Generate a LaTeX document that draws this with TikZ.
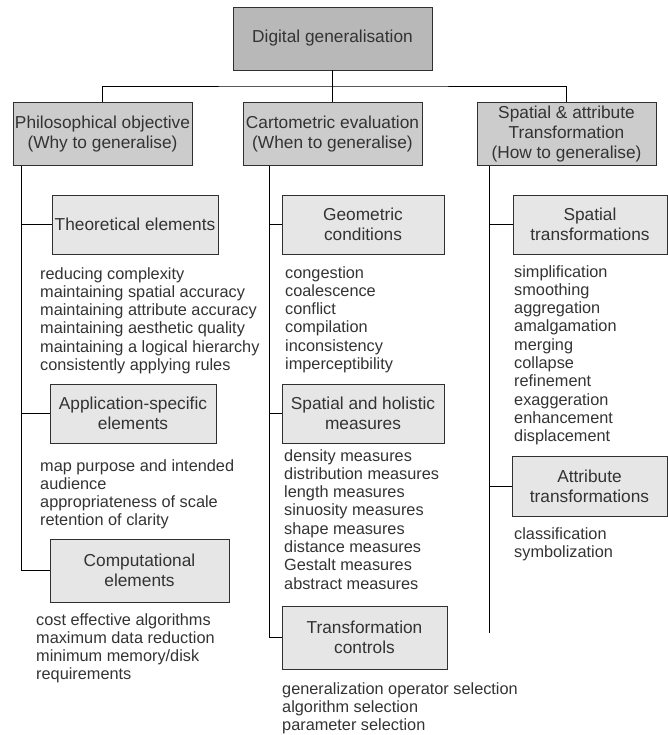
\documentclass[tikz,border=0pt]{standalone}
\usepackage{fontspec}
\setmainfont{Liberation Sans}
\usepackage{xcolor}
\usepackage{tikz}
\usetikzlibrary{positioning}

\definecolor{rootfill}{HTML}{B8B8B8}
\definecolor{mainfill}{HTML}{CCCCCC}
\definecolor{subfill}{HTML}{E6E6E6}
\definecolor{boxline}{HTML}{303030}
\definecolor{inktext}{HTML}{333333}

\begin{document}
\begin{tikzpicture}[
    x=1pt, y=-1pt,
    box/.style={draw=boxline, line width=0.9pt, align=center, inner sep=1pt, text=inktext,
        font=\fontsize{17.3}{20}\selectfont},
    rootbox/.style={box, fill=rootfill, minimum width=199pt, minimum height=63pt},
    mainbox/.style={box, fill=mainfill, minimum width=179pt, minimum height=63pt},
    subbox/.style={box, fill=subfill, minimum height=59pt},
    items/.style={anchor=north west, align=left, inner sep=0pt, text=inktext,
        font=\fontsize{16.3}{18.3}\selectfont},
    link/.style={draw=black, line width=0.8pt}
]
    \useasboundingbox (0,0) rectangle (668,735);

    % top and first level
    \node[rootbox] (root) at (332.5, 38.5) {Digital generalisation};
    \node[mainbox] (why)  at (102.5, 134) {Philosophical objective\\(Why to generalise)};
    \node[mainbox] (when) at (332.5, 134) {Cartometric evaluation\\(When to generalise)};
    \node[mainbox] (how)  at (566.5, 134) {Spatial \& attribute\\Transformation\\(How to generalise)};

    \coordinate (bus) at (332.5, 86);
    \draw[link] (root.south) -- (bus);
    \draw[link] (why.north) |- (bus) -| (how.north);
    \draw[link] (bus) -- (when.north);

    % left column
    \node[subbox, minimum width=166pt] (theo) at (135, 224.5) {Theoretical elements};
    \node[subbox, minimum width=166pt] (appl) at (133, 413.5) {Application-specific\\elements};
    \node[subbox, minimum width=179pt, minimum height=63pt] (comp) at (139.5, 570.5) {Computational\\elements};

    \node[items] (theolist) at (40, 267) {reducing complexity\\maintaining spatial accuracy\\maintaining attribute accuracy\\maintaining aesthetic quality\\maintaining a logical hierarchy\\consistently applying rules};
    \node[items] (appllist) at (40, 459) {map purpose and intended\\audience\\appropriateness of scale\\retention of clarity};
    \node[items] (complist) at (36, 613) {cost effective algorithms\\maximum data reduction\\minimum memory/disk\\requirements};

    \coordinate (whytrunk) at ([xshift=9pt]why.south west);
    \draw[link] (whytrunk) |- (comp.west);
    \draw[link] (theo.west -| whytrunk) -- (theo.west);
    \draw[link] (appl.west -| whytrunk) -- (appl.west);

    % middle column
    \node[subbox, minimum width=162pt] (geom) at (363, 224.5) {Geometric\\conditions};
    \node[subbox, minimum width=162pt] (holi) at (363, 413.5) {Spatial and holistic\\measures};
    \node[subbox, minimum width=165pt, minimum height=63pt] (ctrl) at (364.5, 637.5) {Transformation\\controls};

    \node[items] (geomlist) at (285, 266) {congestion\\coalescence\\conflict\\compilation\\inconsistency\\imperceptibility};
    \node[items] (holilist) at (284, 449) {density measures\\distribution measures\\length measures\\sinuosity measures\\shape measures\\distance measures\\Gestalt measures\\abstract measures};
    \node[items] (ctrllist) at (282, 682) {generalization operator selection\\algorithm selection\\parameter selection};

    \coordinate (whentrunk) at ([xshift=27pt]when.south west);
    \draw[link] (whentrunk) |- (ctrl.west);
    \draw[link] (geom.west -| whentrunk) -- (geom.west);
    \draw[link] (holi.west -| whentrunk) -- (holi.west);

    % right column
    \node[subbox, minimum width=154pt] (spat) at (590, 224.5) {Spatial\\transformations};
    \node[subbox, minimum width=155pt, minimum height=60pt] (attr) at (589.5, 486) {Attribute\\transformations};

    \node[items] (spatlist) at (514, 265) {simplification\\smoothing\\aggregation\\amalgamation\\merging\\collapse\\refinement\\exaggeration\\enhancement\\displacement};
    \node[items] (attrlist) at (514, 527) {classification\\symbolization};

    \coordinate (howtrunk) at ([xshift=13pt]how.south west);
    \coordinate (howend) at (howtrunk |- 0,633);
    \draw[link] (howtrunk) -- (howend);
    \draw[link] (spat.west -| howtrunk) -- (spat.west);
    \draw[link] (attr.west -| howtrunk) -- (attr.west);
\end{tikzpicture}
\end{document}
